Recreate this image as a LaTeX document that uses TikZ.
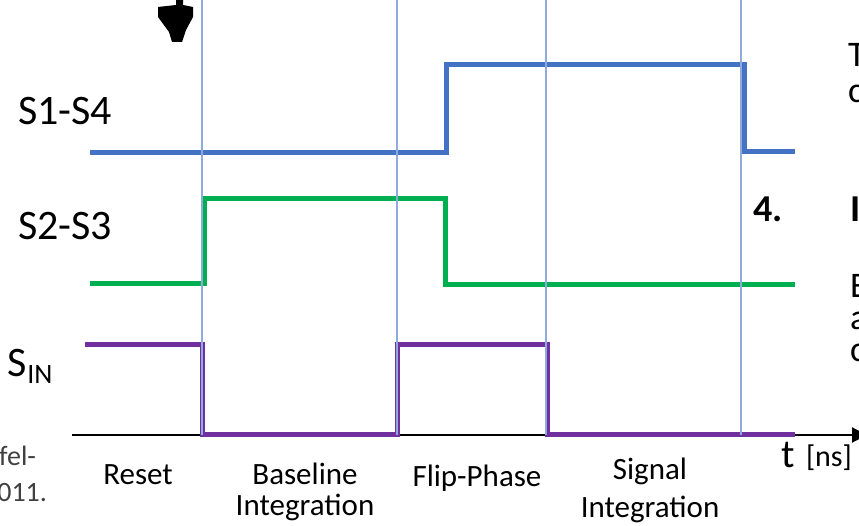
\documentclass[tikz,border=0pt]{standalone}
\usepackage{fontspec}
\setmainfont{Carlito}
\usetikzlibrary{arrows.meta}
\definecolor{sigblue}{HTML}{4472C4}
\definecolor{siggreen}{HTML}{00B050}
\definecolor{sigpurple}{HTML}{7030A0}
\definecolor{phaseline}{HTML}{8FAADC}
\tikzset{
  wave/.style={line width=5pt, line join=miter, line cap=butt},
  phasesep/.style={phaseline, line width=1.3pt},
  siglbl/.style={font=\fontsize{42}{48}\selectfont, anchor=base west},
  phaselbl/.style={font=\fontsize{31}{34}\selectfont, anchor=base},
  sidetxt/.style={font=\fontsize{36}{40}\selectfont, anchor=base west},
  sidebold/.style={font=\fontsize{38}{42}\selectfont\bfseries, anchor=base west},
  captxt/.style={font=\fontsize{28}{32}\selectfont, text=black!75, anchor=base east},
  every node/.style={inner sep=0pt, outer sep=0pt}
}
\begin{document}
\begin{tikzpicture}[x=1pt, y=-1pt]
\useasboundingbox (0,0) rectangle (859,526);

% time axis
\coordinate (axstart) at (72,435);
\coordinate (axend) at (867,435);
\draw[line width=2pt, -{Triangle[length=15pt, width=15pt]}] (axstart) -- (axend);

% switch S1-S4
\draw[wave, sigblue] (90,153) -- (446,153) -- (446,65) -- (744,65) -- (744,152) -- (795,152);
% switch S2-S3
\draw[wave, siggreen] (90,284) -- (204,284) -- (204,199) -- (445,199) -- (445,285) -- (795,285);
% input switch S_IN
\draw[wave, sigpurple] (85,345) -- (202,345) -- (202,434) -- (397,434) -- (397,345) -- (547,345) -- (547,434) -- (795,434);

% phase boundaries
\foreach \xx in {202,397,546,741}
  \draw[phasesep] (\xx,0) -- (\xx,435);

% downward arrow head at the top
\fill[black] (176,0) -- (183,0) -- (183,5) -- (193,7) -- (193,17) -- (186,30) -- (182,42) -- (172,42) -- (169,32) -- (158,17) -- (158,7) -- (176,5) -- cycle;

% signal names
\node[siglbl] (s14) at (18,125) {S1-S4};
\node[siglbl] (s23) at (18,240) {S2-S3};
\node[siglbl] (sin) at (8,377) {S\raisebox{-6pt}{\fontsize{28}{32}\selectfont IN}};

% phase names
\node[phaselbl] (reset) at (138,484) {Reset};
\node[phaselbl] (base1) at (305,484) {Baseline};
\node[phaselbl] (base2) at (305,515) {Integration};
\node[phaselbl] (flip) at (477,486) {Flip-Phase};
\node[phaselbl] (sig1) at (650,479) {Signal};
\node[phaselbl] (sig2) at (650,517) {Integration};

% axis unit
\node[anchor=base west, font=\fontsize{40}{44}\selectfont] (tlbl) at (781,467) {t};
\node[anchor=base west, font=\fontsize{30}{34}\selectfont] (unit) at (806,466) {[ns]};

% caption fragment, lower left
\node[captxt] (cap1) at (36,465) {fel-};
\node[captxt] (cap2) at (47,501) {011.};

% neighbouring text on the right
\node[sidetxt] (r1) at (848,67) {T};
\node[sidetxt] (r2) at (848,103) {c};
\node[sidebold] (r3) at (753,222) {4.};
\node[sidebold] (r4) at (850,222) {I};
\node[sidetxt] (r5) at (850,298) {E};
\node[sidetxt] (r6) at (850,330) {a};
\node[sidetxt] (r7) at (850,362) {c};
\end{tikzpicture}
\end{document}
